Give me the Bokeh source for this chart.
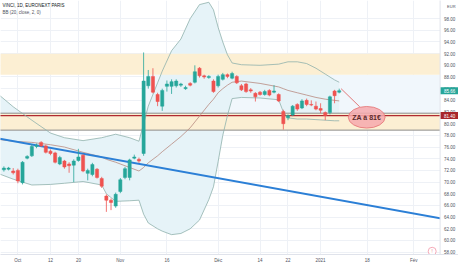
from bokeh.plotting import figure
from bokeh.models import FixedTicker, ColumnDataSource
from bokeh.embed import file_html
from bokeh.resources import INLINE
from bokeh.core.properties import value

# ---- data (bar index: 0 = 1 Oct 2020, trading days) ----
idx = list(range(-3, 70))
opens = [72.1, 72.2, 71.9, 72.0, 69.9, 74.1, 74.5, 76.1, 76.8, 76.2, 75.3, 75.0, 73.1, 73.6, 73.1, 72.9,
         73.7, 74.6, 71.5, 71.3, 72.2, 70.6, 67.6, 66.9, 65.9, 68.4, 70.8, 70.8, 74.1, 73.9, 74.9, 86.5,
         88.1, 85.0, 83.0, 86.4, 86.4, 86.5, 86.6, 86.0, 86.9, 87.1, 89.5, 88.2, 87.9, 87.3, 86.5, 87.6,
         88.4, 87.8, 88.1, 86.5, 86.8, 85.8, 85.2, 85.4, 85.0, 85.7, 85.4, 85.0, 82.1, 81.0, 81.5, 83.3,
         82.7, 84.0, 83.3, 83.0, 82.6, 81.9, 81.9, 85.6, 85.4]
highs = [72.7, 72.6, 72.4, 72.3, 73.6, 74.6, 76.5, 76.6, 77.0, 76.4, 75.6, 75.2, 74.5, 73.8, 73.4, 73.9,
         75.7, 74.8, 72.3, 73.3, 72.4, 70.9, 67.9, 67.2, 68.2, 70.7, 72.6, 74.0, 74.7, 74.2, 92.2, 89.2,
         89.5, 85.3, 86.0, 87.4, 87.6, 87.6, 87.0, 86.5, 87.1, 90.0, 89.7, 88.4, 88.3, 87.6, 88.4, 88.7,
         88.6, 88.9, 88.3, 86.8, 87.0, 86.1, 85.4, 85.6, 85.8, 85.9, 86.6, 85.2, 82.4, 81.6, 83.2, 83.5,
         84.2, 84.3, 84.0, 83.8, 83.5, 82.1, 84.8, 85.8, 86.0]
lows = [71.8, 72.0, 71.3, 69.8, 69.6, 73.9, 74.3, 75.8, 76.0, 74.9, 74.6, 73.2, 72.9, 72.3, 71.6, 70.0,
        73.5, 71.7, 70.3, 71.0, 70.6, 69.0, 64.9, 65.2, 65.6, 68.1, 70.5, 70.3, 73.9, 73.3, 74.5, 86.0,
        85.2, 83.0, 82.2, 85.5, 85.1, 86.2, 86.3, 85.8, 86.4, 86.9, 87.9, 87.7, 87.7, 85.3, 86.2, 87.4,
        87.8, 87.6, 86.8, 85.6, 85.3, 85.3, 83.8, 84.8, 84.8, 84.7, 85.2, 83.7, 79.0, 80.6, 81.3, 82.2,
        82.5, 83.0, 83.0, 82.3, 81.8, 80.6, 81.6, 83.5, 85.2]
closes = [72.4, 72.4, 71.6, 70.2, 73.4, 74.4, 76.1, 76.3, 76.2, 75.1, 74.9, 73.4, 74.2, 72.6, 72.8, 73.6,
          74.3, 71.9, 72.0, 73.0, 70.8, 69.3, 66.9, 66.5, 67.9, 70.4, 72.3, 73.8, 74.3, 73.6, 87.3, 88.1,
          85.4, 83.8, 85.7, 86.8, 87.2, 87.3, 86.8, 86.2, 86.6, 88.9, 88.2, 88.0, 88.1, 85.5, 88.1, 88.4,
          88.1, 88.6, 87.0, 85.8, 85.5, 85.6, 84.6, 85.0, 85.5, 84.9, 85.6, 83.9, 80.0, 81.4, 83.0, 82.5,
          83.9, 83.3, 83.2, 82.5, 82.3, 81.4, 84.6, 84.8, 85.66]

# Bollinger Bands (20, close, 2)
bb_idx = [-4, -1, 3, 7, 10, 14, 18, 19, 21, 24, 26, 27, 28, 30, 31, 33, 35, 37, 39, 41, 42, 43, 44, 45,
          46, 48, 52, 56, 57, 58, 60, 62, 64, 66, 68, 69]
bb_upper = [84.9, 82.9, 80.6, 78.4, 77.6, 77.1, 77.6, 77.8, 78.2, 77.6, 77.0, 80.0, 83.0, 87.0, 89.0,
            92.5, 94.5, 98.0, 100.4, 100.8, 99.5, 96.5, 94.0, 91.8, 90.4, 90.1, 90.0, 90.2, 90.4, 90.6,
            90.6, 90.3, 89.5, 88.5, 87.5, 87.1]
bb_basis = [77.3, 77.0, 76.8, 76.4, 76.0, 75.1, 74.3, 73.9, 73.4, 72.5, 71.9, 72.5, 73.3, 74.5, 75.2,
            76.5, 77.8, 79.3, 81.3, 83.3, 84.2, 85.3, 86.0, 86.6, 87.1, 87.3, 86.9, 86.3, 86.0, 85.7,
            85.3, 84.9, 84.5, 84.2, 84.0, 83.9]
bb_lower = [71.4, 70.5, 69.5, 69.6, 69.8, 70.1, 69.5, 68.0, 66.7, 66.8, 66.9, 64.5, 63.0, 62.0, 61.6,
            61.0, 61.2, 62.0, 63.5, 67.0, 69.2, 73.5, 78.0, 81.4, 84.3, 84.5, 84.4, 84.1, 82.0, 81.0,
            80.8, 80.8, 80.7, 80.6, 80.5, 80.5]

# drawn zones / levels
zone_bottom = [88.4, 78.9]
zone_top = [92.0, 81.8]
mid_zone = [81.8, 88.4]
mid_zone_start = 27
za_level = 81.40
trend_idx = [-10, 100]
trend_val = [78.3, 62.45]
note_x, note_y, note_w, note_h = 74.9, 81.1, 7.9, 3.7
connector_x = [69.4, 73.4]
connector_y = [86.0, 82.9]

tick_idx = [0, 7, 13, 22, 32, 43, 52, 58, 65, 75, 85]
tick_labels = ["Oct", "12", "20", "Nov", "16", "Déc", "14", "22", "2021", "18", "Fév"]
price_ticks = [58, 60, 62, 64, 66, 68, 70, 72, 74, 76, 78, 80, 82, 84, 86, 88, 90, 92, 94, 96, 98]

x_start, x_end, x_scale_end = -3.73, 90.66, 94.61   # plot area, then price-scale strip
y_start, y_end = 57.6, 101.1

FONT = value("Liberation Sans")
UP, DOWN = "#26a69a", "#ef5350"
W = 458
px_per_bar = W / (x_scale_end - x_start)

p = figure(frame_width=W, frame_height=254, x_range=(x_start, x_scale_end), y_range=(y_start, y_end),
           output_backend="svg", toolbar_location=None, y_axis_location=None,
           min_border_left=0, min_border_top=0, min_border_right=0, min_border_bottom=0)
p.outline_line_color = None
p.background_fill_color = "white"

# grids
p.xgrid.ticker = FixedTicker(ticks=tick_idx)
p.ygrid.ticker = FixedTicker(ticks=price_ticks)
p.grid.grid_line_color = "#eef1f6"
p.grid.grid_line_width = 1

# time axis
p.xaxis.ticker = FixedTicker(ticks=tick_idx)
p.xaxis.major_label_overrides = {t: l for t, l in zip(tick_idx, tick_labels)}
p.xaxis.major_tick_out = 0
p.xaxis.major_tick_in = 0
p.xaxis.minor_tick_out = 0
p.xaxis.minor_tick_in = 0
p.xaxis.axis_line_color = "#e0e3eb"
p.xaxis.major_label_text_font_size = "4.5px"
p.xaxis.major_label_text_color = "#50535e"
p.xaxis.major_label_text_font = "Liberation Sans"
p.xaxis.major_label_standoff = 3

# pale band between zones
p.quad(left=[mid_zone_start], right=[x_end], bottom=[mid_zone[0]], top=[mid_zone[1]],
       fill_color="#f1f7fc", line_color=None)

# Bollinger fill
p.varea(x=bb_idx, y1=bb_lower, y2=bb_upper, fill_color="#e6f3f8")

# zones
p.quad(left=[x_start - 5] * 2, right=[x_end] * 2, bottom=zone_bottom, top=zone_top,
       fill_color="#fcefd3", line_color=None)
p.segment(x0=[x_start - 5] * 2, x1=[x_end] * 2, y0=[zone_top[1], zone_bottom[1]],
          y1=[zone_top[1], zone_bottom[1]], line_color="#8c8c8c", line_width=1)
p.segment(x0=[x_start - 5], x1=[x_end], y0=[za_level], y1=[za_level], line_color="#b02a30", line_width=1.3)

# BB lines
p.line(bb_idx, bb_upper, line_color="#8fb1ac", line_width=0.8)
p.line(bb_idx, bb_lower, line_color="#8fb1ac", line_width=0.8)
p.line(bb_idx, bb_basis, line_color="#b88a80", line_width=0.8)

# trend line
p.line(trend_idx, trend_val, line_color="#2b7fd6", line_width=2)

# candles
colors = [UP if c >= o else DOWN for o, c in zip(opens, closes)]
src = ColumnDataSource(dict(x=idx, o=opens, h=highs, l=lows, c=closes,
                            top=[max(o, c) for o, c in zip(opens, closes)],
                            bot=[min(o, c) for o, c in zip(opens, closes)], col=colors))
p.segment(x0="x", x1="x", y0="l", y1="h", line_color="col", line_width=0.8, source=src)
p.vbar(x="x", width=0.68, top="top", bottom="bot", fill_color="col", line_color="col",
       line_width=0.5, source=src)

# note ellipse + connector
p.line(connector_x, connector_y, line_color="#e06c6c", line_width=0.9)
p.ellipse(x=[note_x], y=[note_y], width=[note_w], height=[note_h], fill_color="#f6a9ad",
          fill_alpha=0.85, line_color="#e57373", line_width=0.8)
p.text(x=[note_x], y=[note_y], text=["ZA à 81€"], text_align="center", text_baseline="middle",
       text_font_size="7px", text_font_style="bold", text_color="#5a2a2a", text_font=FONT)

# header texts
p.text(x=[x_start], y=[y_end], x_offset=2, y_offset=2, text=["VINCI, 1D, EURONEXT PARIS"],
       text_baseline="top", text_font_size="4.5px", text_color="#131722", text_font=FONT)
p.text(x=[x_start], y=[y_end], x_offset=2, y_offset=9, text=["BB (20, close, 2, 0)"],
       text_baseline="top", text_font_size="4.5px", text_color="#50535e", text_font=FONT)

# ---- price scale strip (right) ----
p.quad(left=[x_end], right=[x_scale_end + 5], bottom=[y_start - 5], top=[y_end + 5],
       fill_color="white", line_color=None)
p.segment(x0=[x_end], x1=[x_end], y0=[y_start - 5], y1=[y_end + 5], line_color="#e0e3eb", line_width=1)
p.text(x=[x_end] * len(price_ticks), y=price_ticks, x_offset=4,
       text=[f"{v:.2f}" for v in price_ticks], text_baseline="middle",
       text_font_size="4.5px", text_color="#50535e", text_font=FONT)
p.text(x=[x_end], y=[y_end], x_offset=7, y_offset=3, text=["EUR"], text_baseline="top",
       text_font_size="4px", text_color="#50535e", text_font=FONT)

box_cx = x_end + 9.5 / px_per_bar
for val, bg in ((closes[-1], UP), (za_level, "#a8262b")):
    p.rect(x=[box_cx], y=[val], width=18, height=7, width_units="screen", height_units="screen",
           fill_color=bg, line_color=None)
    p.text(x=[box_cx], y=[val], text=[f"{val:.2f}"], text_align="center", text_baseline="middle",
           text_font_size="4.5px", text_color="white", text_font=FONT)

# small alert icon, bottom right of the plot area
icon_x, icon_y = x_end - 1.7, y_start + 0.55
p.scatter(x=[icon_x], y=[icon_y], marker="circle", size=8, fill_color="white",
          line_color="#f4a0b0", line_width=0.9)
p.text(x=[icon_x], y=[icon_y], text=["!"], text_align="center", text_baseline="middle",
       text_font_size="4.5px", text_color="#e57373", text_font=FONT)

open("out.html", "w").write(file_html(p, INLINE))
